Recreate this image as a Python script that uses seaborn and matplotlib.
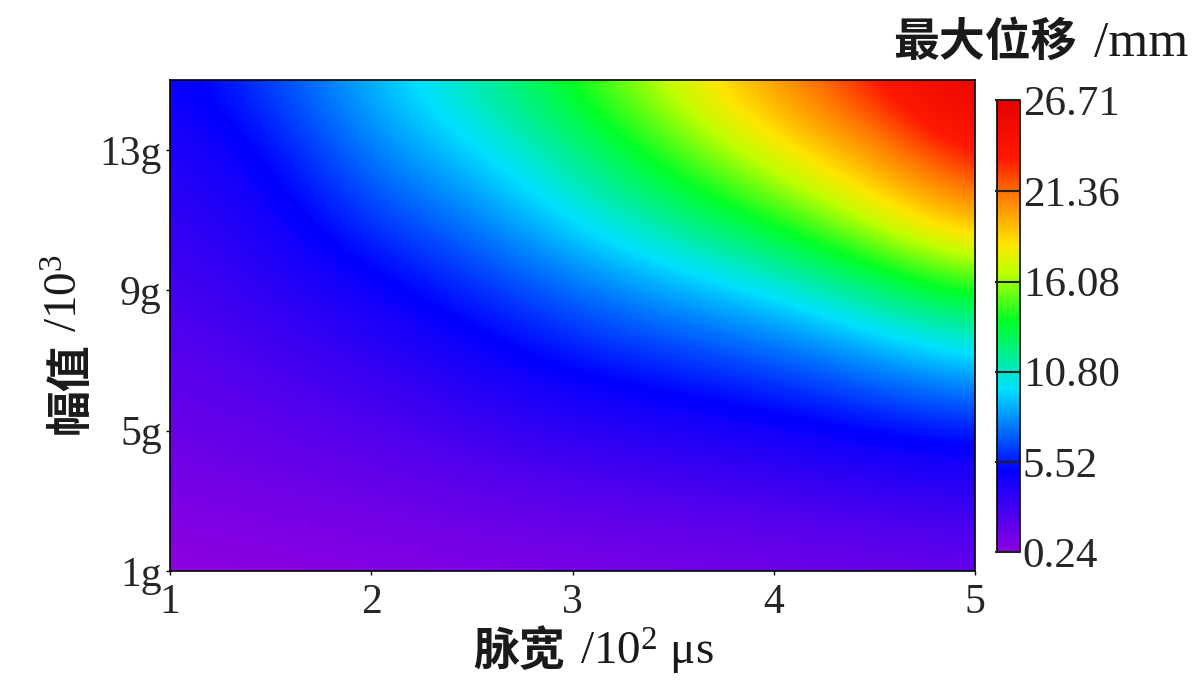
import numpy as np
import pandas as pd
import matplotlib
matplotlib.use("Agg")
import matplotlib.pyplot as plt
import seaborn as sns
from matplotlib.colors import LinearSegmentedColormap

# ---- data ----
pulse_width = [1.0, 1.5, 2.0, 2.5, 3.0, 3.5, 4.0, 4.5, 5.0]   # 10^2 us
amplitude = [1, 3, 5, 7, 9, 11, 13, 15]                       # 10^3 g
disp_a1 = [0.24, 0.35, 0.50, 0.65, 0.80, 0.90, 1.10, 1.30, 1.50]
disp_a3 = [0.80, 1.10, 1.30, 1.70, 2.00, 2.30, 2.50, 2.90, 3.20]
disp_a5 = [1.40, 1.90, 2.30, 2.90, 3.50, 3.90, 4.40, 5.00, 5.50]
disp_a7 = [2.00, 2.60, 3.30, 4.30, 5.30, 6.00, 6.70, 8.00, 9.50]
disp_a9 = [2.60, 3.50, 4.50, 5.80, 7.20, 8.60, 9.90, 12.00, 14.20]
disp_a11 = [3.20, 4.30, 6.20, 7.60, 9.80, 11.80, 14.00, 17.00, 20.00]
disp_a13 = [3.80, 5.10, 7.80, 9.50, 11.80, 14.80, 17.70, 20.50, 24.00]
disp_a15 = [4.50, 6.50, 9.00, 11.20, 14.20, 17.20, 20.50, 23.50, 26.71]
cbar_ticks = [0.24, 5.52, 10.80, 16.08, 21.36, 26.71]
x_ticks = [1, 2, 3, 4, 5]
y_ticks = [1, 5, 9, 13]
y_ticklabels = ["1g", "5g", "9g", "13g"]
xlabel_cn, xlabel_unit = "脉宽", r"$\mathrm{/10^{2}\ μs}$"
ylabel_cn, ylabel_unit = "幅值", r"$\mathrm{/10^{3}}$"
cbar_title_cn, cbar_title_unit = "最大位移", "/mm"

df = pd.DataFrame([disp_a1, disp_a3, disp_a5, disp_a7, disp_a9, disp_a11, disp_a13, disp_a15],
                  index=amplitude, columns=pulse_width)

sns.set_theme(style="ticks")
plt.rcParams["font.family"] = ["Liberation Serif", "Noto Sans CJK SC", "DejaVu Sans"]
plt.rcParams["axes.unicode_minus"] = False
plt.rcParams["mathtext.fontset"] = "custom"
plt.rcParams["mathtext.rm"] = "Liberation Serif"
plt.rcParams["mathtext.it"] = "Liberation Serif:italic"
plt.rcParams["mathtext.bf"] = "Liberation Serif:bold"

cmap = LinearSegmentedColormap.from_list("disp", [
    (0.00, (0.55, 0.00, 0.88)),
    (0.18, (0.00, 0.00, 1.00)),
    (0.36, (0.00, 0.88, 1.00)),
    (0.51, (0.00, 1.00, 0.15)),
    (0.62, (0.75, 1.00, 0.00)),
    (0.68, (1.00, 0.90, 0.00)),
    (0.79, (1.00, 0.48, 0.00)),
    (0.87, (1.00, 0.10, 0.00)),
    (1.00, (0.90, 0.00, 0.00)),
])

W, H = 1200, 700
fig = plt.figure(figsize=(W / 100, H / 100), dpi=100)
ax = fig.add_axes([0.1417, 0.1843, 0.6708, 0.7014])
cax = fig.add_axes([0.831, 0.2114, 0.019, 0.6457])

xv = np.array(df.columns, dtype=float)
yv = np.array(df.index, dtype=float)
dx = xv[1] - xv[0]
dy = yv[1] - yv[0]
im = ax.imshow(df.values, origin="lower", aspect="auto", cmap=cmap,
               vmin=cbar_ticks[0], vmax=cbar_ticks[-1], interpolation="bicubic",
               extent=(xv[0] - dx / 2, xv[-1] + dx / 2, yv[0] - dy / 2, yv[-1] + dy / 2))
ax.set_xlim(1, 5)
ax.set_ylim(1, 15)
ax.set_xticks(x_ticks)
ax.set_xticklabels([str(t) for t in x_ticks])
ax.set_yticks(y_ticks)
ax.set_yticklabels(y_ticklabels)
ax.tick_params(axis="both", labelsize=30, length=3, width=1, direction="out", color="black")
ax.tick_params(axis="x", pad=6)
ax.tick_params(axis="y", pad=3)
for s in ax.spines.values():
    s.set_color("black")
    s.set_linewidth(1.2)

cb = fig.colorbar(im, cax=cax, ticks=cbar_ticks)
cb.ax.set_axisbelow(False)
cb.ax.set_yticklabels([f"{t:.2f}" for t in cbar_ticks])
cb.ax.tick_params(labelsize=31, direction="in", length=18, width=1.5, color="#222222", pad=2)
cb.outline.set_edgecolor("black")
cb.outline.set_linewidth(1.2)

cn_kw = dict(fontsize=33, fontweight="bold", family=["Noto Sans CJK SC"], color="#1a1a1a")
un_kw = dict(fontsize=34, family=["Liberation Serif"], color="#1a1a1a")

# x label (Chinese part bold, unit part regular serif)
fig.text(565 / W, 1 - 665 / H, xlabel_cn, ha="right", va="baseline", **cn_kw)
fig.text(580 / W, 1 - 665 / H, xlabel_unit, ha="left", va="baseline", **un_kw)

# y label, rotated
fig.text(84 / W, 1 - 434 / H, ylabel_cn, rotation=90, rotation_mode="anchor",
         ha="left", va="baseline", **cn_kw)
fig.text(78 / W, 1 - 332 / H, ylabel_unit, rotation=90, rotation_mode="anchor",
         ha="left", va="baseline", **un_kw)

# colorbar title
fig.text(1077 / W, 1 - 56 / H, cbar_title_cn, ha="right", va="baseline", **cn_kw)
fig.text(1094 / W, 1 - 56 / H, cbar_title_unit, ha="left", va="baseline",
         fontsize=37, family=["Liberation Serif"], color="#1a1a1a")

fig.savefig("out.png", dpi=100)
